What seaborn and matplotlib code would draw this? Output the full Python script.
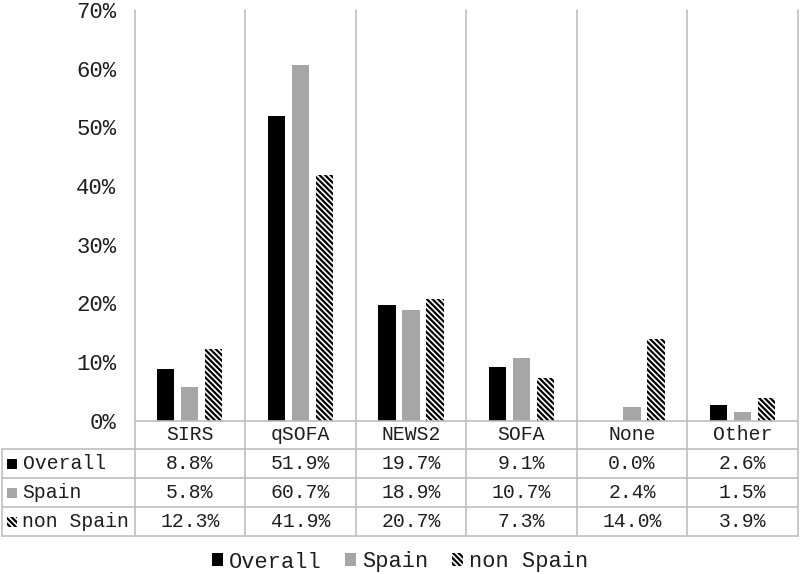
import numpy as np
import pandas as pd
import seaborn as sns
import matplotlib.pyplot as plt
from matplotlib.patches import Patch, Rectangle
from matplotlib.lines import Line2D
from matplotlib.transforms import blended_transform_factory

# data (percent)
methods = ['SIRS', 'qSOFA', 'NEWS2', 'SOFA', 'None', 'Other']
groups = ['Overall', 'Spain', 'non Spain']
overall = [8.8, 51.9, 19.7, 9.1, 0.0, 2.6]
spain = [5.8, 60.7, 18.9, 10.7, 2.4, 1.5]
non_spain = [12.3, 41.9, 20.7, 7.3, 14.0, 3.9]
yticks = [0, 10, 20, 30, 40, 50, 60, 70]

colors = ['black', '#a6a6a6', 'white']
HATCH = '\\' * 6
TXT = '#1e1e1e'
GRID = '#bfbfbf'

df = pd.DataFrame({
    'method': methods * 3,
    'group': [g for g in groups for _ in methods],
    'value': overall + spain + non_spain,
})

sns.set_theme(style='white')
plt.rcParams['font.family'] = ['Liberation Mono', 'DejaVu Sans Mono']
plt.rcParams['hatch.linewidth'] = 1.6

W, H = 800, 574
fig = plt.figure(figsize=(8, 5.74), dpi=100)


def fx(px):
    return px / W


def fy(py):
    return 1 - py / H


left, right, top, base = 134.5, 797.7, 10, 420.7
ax = fig.add_axes([fx(left), fy(base), fx(right) - fx(left), fy(top) - fy(base)])

sns.barplot(data=df, x='method', y='value', hue='group', order=methods,
            hue_order=groups, palette=colors, width=0.652, gap=0.276,
            linewidth=0, ax=ax, legend=False)
for p in ax.containers[2]:
    p.set_hatch(HATCH)
    p.set_edgecolor('black')
    p.set_linewidth(0)

ax.set_xlim(-0.5, len(methods) - 0.5)
ax.set_ylim(0, 70)
ax.set_yticks(yticks)
ax.set_yticklabels([f'{v}%' for v in yticks], fontsize=16, color=TXT)
ax.tick_params(axis='y', length=0, pad=13)
ax.set_xticks([])
ax.set_xlabel('')
ax.set_ylabel('')
for s in ax.spines.values():
    s.set_visible(False)

# table geometry (figure pixels)
rows_y = [420.7, 449, 478, 507, 536]
tleft = 2
bt = blended_transform_factory(ax.transData, fig.transFigure)

# vertical category lines through plot and table
for i in range(len(methods) + 1):
    fig.add_artist(Line2D([i - 0.5, i - 0.5], [fy(top), fy(rows_y[-1])],
                          transform=bt, color=GRID, lw=1.2))
# baseline / header top
fig.add_artist(Line2D([fx(left), fx(right)], [fy(rows_y[0])] * 2,
                      transform=fig.transFigure, color=GRID, lw=1.2))
# row lines
for yy in rows_y[1:]:
    fig.add_artist(Line2D([fx(tleft), fx(right)], [fy(yy)] * 2,
                          transform=fig.transFigure, color=GRID, lw=1.2))
fig.add_artist(Line2D([fx(tleft)] * 2, [fy(rows_y[1]), fy(rows_y[-1])],
                      transform=fig.transFigure, color=GRID, lw=1.2))

# header
hy = fy((rows_y[0] + rows_y[1]) / 2)
for i, m in enumerate(methods):
    fig.text(i, hy, m, transform=bt, ha='center', va='center',
             fontsize=14.2, color=TXT)

# rows
series = [overall, spain, non_spain]
for r, (g, vals, c) in enumerate(zip(groups, series, colors)):
    ymid = (rows_y[r + 1] + rows_y[r + 2]) / 2
    for i, v in enumerate(vals):
        fig.text(i, fy(ymid), f'{v:.1f}%', transform=bt, ha='center',
                 va='center', fontsize=14.2, color=TXT)
    fig.add_artist(Rectangle((fx(7), fy(ymid + 5)), fx(10), 10 / H,
                             transform=fig.transFigure, facecolor=c,
                             edgecolor='black' if r == 2 else c, lw=0,
                             hatch=HATCH if r == 2 else None))
    fig.text(fx(22.5), fy(ymid), g, ha='left', va='center',
             fontsize=14.2, color=TXT)

# legend
handles = [Patch(facecolor=c, edgecolor='black' if i == 2 else c, lw=0,
                 hatch=HATCH if i == 2 else None)
           for i, c in enumerate(colors)]
fig.legend(handles, groups, loc='center', bbox_to_anchor=(0.5, fy(562)),
           ncol=3, frameon=False, fontsize=15.8, handlelength=0.5,
           handleheight=0.5, handletextpad=0.25, columnspacing=1.1,
           labelcolor=TXT)

fig.savefig('out.png', dpi=100)
